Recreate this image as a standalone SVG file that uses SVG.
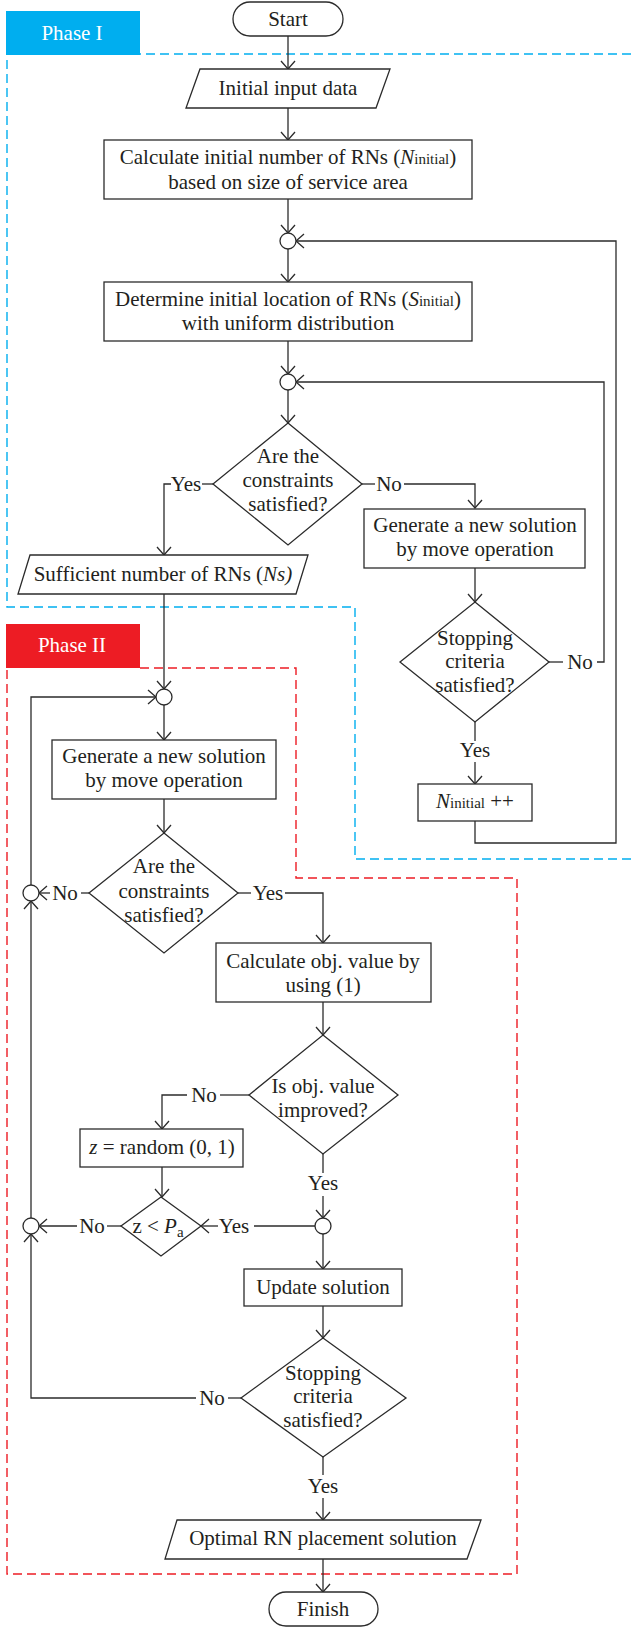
<svg xmlns="http://www.w3.org/2000/svg" width="631" height="1628" viewBox="0 0 631 1628">
<style>
.s{fill:#fff;stroke:#2b2b2b;stroke-width:1.3}
.t{font-family:"Liberation Serif","Times New Roman",serif;font-size:21px;fill:#231f20;text-anchor:middle}
.sm{font-size:15px}
.it{font-style:italic}
.c{fill:none;stroke:#2b2b2b;stroke-width:1.3}
.ph{font-family:"Liberation Serif","Times New Roman",serif;font-size:21px;fill:#fff;text-anchor:middle}
</style>
<defs>
<marker id="a" markerWidth="10" markerHeight="16" refX="9" refY="8" orient="auto" markerUnits="userSpaceOnUse">
<path d="M1,1 L9,8 L1,15" fill="none" stroke="#2b2b2b" stroke-width="1.3"/>
</marker>
</defs>
<rect width="631" height="1628" fill="#fff"/>
<g id="phase1-region">
<path d="M631,54 H7 V607 H355 V859 H631" fill="none" stroke="#00AEEF" stroke-width="1.4" stroke-dasharray="9 5"/>
<rect x="6" y="11" width="134" height="44" fill="#00AEEF"/>
<text class="ph" x="72" y="40">Phase I</text>
</g>
<g id="phase2-region">
<path d="M140,668 H296 V878 H517 V1574 H7 V668" fill="none" stroke="#ED1C24" stroke-width="1.4" stroke-dasharray="9 5"/>
<rect x="6" y="624" width="134" height="44" fill="#ED1C24"/>
<text class="ph" x="72" y="652">Phase II</text>
</g>
<g id="connectors" class="c">
<path d="M288,36 V69" marker-end="url(#a)"/>
<path d="M288,108 V140" marker-end="url(#a)"/>
<path d="M288,199 V233" marker-end="url(#a)"/>
<path d="M288,249 V282" marker-end="url(#a)"/>
<path d="M288,341 V374" marker-end="url(#a)"/>
<path d="M288,390 V423" marker-end="url(#a)"/>
<path d="M213,484 H202"/>
<path d="M171,484 H164 V555" marker-end="url(#a)"/>
<path d="M362,484 H375"/>
<path d="M404,484 H475 V508" marker-end="url(#a)"/>
<path d="M475,568 V602" marker-end="url(#a)"/>
<path d="M549,662 H563"/>
<path d="M597,662 H604 V382 H296" marker-end="url(#a)"/>
<path d="M475,722 V741"/>
<path d="M475,762 V784" marker-end="url(#a)"/>
<path d="M475,821 V843 H616 V241 H296" marker-end="url(#a)"/>
<path d="M164,594 V689" marker-end="url(#a)"/>
<path d="M164,705 V740" marker-end="url(#a)"/>
<path d="M164,799 V833" marker-end="url(#a)"/>
<path d="M89,893 H81"/>
<path d="M50,893 H39" marker-end="url(#a)"/>
<path d="M238,893 H251"/>
<path d="M285,893 H323 V943" marker-end="url(#a)"/>
<path d="M323,1002 V1035" marker-end="url(#a)"/>
<path d="M249,1095 H220"/>
<path d="M187,1095 H162 V1129" marker-end="url(#a)"/>
<path d="M162,1167 V1197" marker-end="url(#a)"/>
<path d="M323,1154 V1173"/>
<path d="M323,1196 V1218" marker-end="url(#a)"/>
<path d="M315,1226 H254"/>
<path d="M218,1226 H201" marker-end="url(#a)"/>
<path d="M121,1226 H107"/>
<path d="M77,1226 H39" marker-end="url(#a)"/>
<path d="M323,1234 V1269" marker-end="url(#a)"/>
<path d="M323,1306 V1338" marker-end="url(#a)"/>
<path d="M241,1398 H228"/>
<path d="M196,1398 H31 V1234" marker-end="url(#a)"/>
<path d="M31,1218 V901" marker-end="url(#a)"/>
<path d="M31,885 V697 H156" marker-end="url(#a)"/>
<path d="M323,1457 V1475"/>
<path d="M323,1498 V1520" marker-end="url(#a)"/>
<path d="M323,1559 V1592" marker-end="url(#a)"/>
</g>
<g id="labels" class="t">
<text x="186" y="491">Yes</text>
<text x="389" y="491">No</text>
<text x="580" y="669">No</text>
<text x="475" y="757">Yes</text>
<text x="65" y="900">No</text>
<text x="268" y="900">Yes</text>
<text x="204" y="1102">No</text>
<text x="323" y="1190">Yes</text>
<text x="234" y="1233">Yes</text>
<text x="92" y="1233">No</text>
<text x="212" y="1405">No</text>
<text x="323" y="1493">Yes</text>
</g>
<g id="start"><rect class="s" x="233" y="2" width="110" height="34" rx="17"/><text class="t" x="288" y="26">Start</text></g>
<g id="input"><polygon class="s" points="200,69 390,69 376,108 186,108"/><text class="t" x="288" y="95">Initial input data</text></g>
<g id="calc-n"><rect class="s" x="104" y="140" width="368" height="59"/><text class="t" x="288" y="164">Calculate initial number of RNs (<tspan class="it">N</tspan><tspan class="sm">initial</tspan>)</text><text class="t" x="288" y="189">based on size of service area</text></g>
<g id="j1"><circle class="s" cx="288" cy="241" r="8"/></g>
<g id="determine"><rect class="s" x="104" y="282" width="368" height="59"/><text class="t" x="288" y="306">Determine initial location of RNs (<tspan class="it">S</tspan><tspan class="sm">initial</tspan>)</text><text class="t" x="288" y="330">with uniform distribution</text></g>
<g id="j2"><circle class="s" cx="288" cy="382" r="8"/></g>
<g id="d1"><polygon class="s" points="288,423 362,484 288,545 213,484"/><text class="t" x="288" y="463">Are the</text><text class="t" x="288" y="487">constraints</text><text class="t" x="288" y="511">satisfied?</text></g>
<g id="gen1"><rect class="s" x="364" y="509" width="221" height="59"/><text class="t" x="475" y="532">Generate a new solution</text><text class="t" x="475" y="556">by move operation</text></g>
<g id="ns"><polygon class="s" points="30,555 308,555 296,594 18,594"/><text class="t" x="163" y="581">Sufficient number of RNs (<tspan class="it">Ns)</tspan></text></g>
<g id="d2"><polygon class="s" points="475,602 549,662 475,722 400,662"/><text class="t" x="475" y="645">Stopping</text><text class="t" x="475" y="668">criteria</text><text class="t" x="475" y="692">satisfied?</text></g>
<g id="ninc"><rect class="s" x="418" y="784" width="114" height="37"/><text class="t" x="475" y="808"><tspan class="it">N</tspan><tspan class="sm">initial</tspan> ++</text></g>
<g id="j3"><circle class="s" cx="164" cy="697" r="8"/></g>
<g id="gen2"><rect class="s" x="52" y="740" width="224" height="59"/><text class="t" x="164" y="763">Generate a new solution</text><text class="t" x="164" y="787">by move operation</text></g>
<g id="d3"><polygon class="s" points="164,833 238,893 164,953 89,893"/><text class="t" x="164" y="873">Are the</text><text class="t" x="164" y="898">constraints</text><text class="t" x="164" y="922">satisfied?</text></g>
<g id="j4"><circle class="s" cx="31" cy="893" r="8"/></g>
<g id="calcobj"><rect class="s" x="216" y="943" width="215" height="59"/><text class="t" x="323" y="968">Calculate obj. value by</text><text class="t" x="323" y="992">using (1)</text></g>
<g id="d4"><polygon class="s" points="323,1035 398,1095 323,1154 249,1095"/><text class="t" x="323" y="1093">Is obj. value</text><text class="t" x="323" y="1117">improved?</text></g>
<g id="zrand"><rect class="s" x="80" y="1129" width="163" height="38"/><text class="t" x="162" y="1154"><tspan class="it">z</tspan> = random (0, 1)</text></g>
<g id="dz"><polygon class="s" points="161,1197 201,1226 161,1256 121,1226"/><text class="t" x="158" y="1233">z &lt; <tspan class="it">P</tspan><tspan class="sm" dy="4">a</tspan></text></g>
<g id="j5"><circle class="s" cx="31" cy="1226" r="8"/></g>
<g id="j6"><circle class="s" cx="323" cy="1226" r="8"/></g>
<g id="update"><rect class="s" x="244" y="1269" width="158" height="37"/><text class="t" x="323" y="1294">Update solution</text></g>
<g id="d5"><polygon class="s" points="323,1338 406,1398 323,1457 241,1398"/><text class="t" x="323" y="1380">Stopping</text><text class="t" x="323" y="1403">criteria</text><text class="t" x="323" y="1427">satisfied?</text></g>
<g id="output"><polygon class="s" points="177,1520 481,1520 467,1559 165,1559"/><text class="t" x="323" y="1545">Optimal RN placement solution</text></g>
<g id="finish"><rect class="s" x="269" y="1592" width="109" height="34" rx="17"/><text class="t" x="323" y="1616">Finish</text></g>
</svg>
